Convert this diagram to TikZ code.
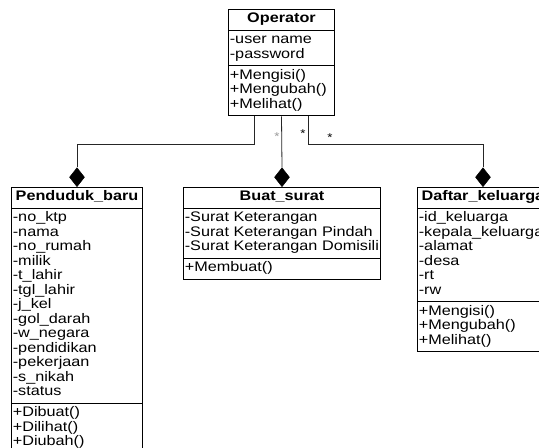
\documentclass[tikz,border=0pt]{standalone}
\usepackage{fontspec}
\setmainfont{Liberation Sans}[FakeStretch=1.17]
\usetikzlibrary{shapes.multipart,shapes.geometric,positioning}

\begin{document}
\begin{tikzpicture}[
  x=0.75pt, y=-0.75pt,
  font=\fontsize{10.4}{10.875}\selectfont,
  cls/.style={draw=black, line width=0.75pt, rectangle split, rectangle split parts=3,
    text width=#1, align=left, inner xsep=1pt, inner ysep=2.06pt,
    anchor=north west, fill=white},
  comp/.style={draw=black, fill=black, diamond, minimum width=11.25pt,
    minimum height=14.25pt, inner sep=0pt, anchor=south},
  link/.style={draw=black!85, line width=0.6pt},
  mult/.style={font=\fontsize{8.5}{9}\selectfont, inner sep=0pt}
]
  \useasboundingbox (0,0) rectangle (539,448);
  \clip (0,0) rectangle (539,448);
  \fill[white] (0,0) rectangle (539,448);

  % operator on top
  \node[cls=77.5pt] (op) at (228,9) {\strut\hfill\textbf{Operator}\hfill\strut
    \nodepart{second}\strut-user name\\-password\strut
    \nodepart{third}\strut+Mengisi()\\+Mengubah()\\+Melihat()\strut};

  % the three parts
  \node[cls=96.25pt] (pend) at (11,187) {\strut\hfill\textbf{Penduduk\_baru}\hfill\strut
    \nodepart{second}\strut-no\_ktp\\-nama\\-no\_rumah\\-milik\\-t\_lahir\\-tgl\_lahir\\-j\_kel\\
    -gol\_darah\\-w\_negara\\-pendidikan\\-pekerjaan\\-s\_nikah\\-status\strut
    \nodepart{third}\strut+Dibuat()\\+Dilihat()\\+Diubah()\strut};
  \node[cls=145.75pt] (surat) at (183,187) {\strut\hfill\textbf{Buat\_surat}\hfill\strut
    \nodepart{second}\strut-Surat Keterangan\\-Surat Keterangan Pindah\\-Surat Keterangan Domisili\strut
    \nodepart{third}\strut+Membuat()\strut};
  \node[cls=96.25pt] (kk) at (417,187) {\strut\hfill\textbf{Daftar\_keluarga}\hfill\strut
    \nodepart{second}\strut-id\_keluarga\\-kepala\_keluarga\\-alamat\\-desa\\-rt\\-rw\strut
    \nodepart{third}\strut+Mengisi()\\+Mengubah()\\+Melihat()\strut};

  % composition diamonds
  \node[comp] (d1) at (pend.north) {};
  \node[comp] (d2) at (surat.north) {};
  \node[comp] (d3) at (kk.north) {};

  % links
  \draw[link] ([xshift=-20.25pt]op.south) -- ++(0,28) -| (d1.north);
  \draw[link] (op.south) -- (d2.north);
  \draw[link] ([xshift=20.25pt]op.south) -- ++(0,28) -| (d3.north);

  \node[mult, black!40] (m2) at (277,137) {*};
  \node[mult] (m3a) at (303,134) {*};
  \node[mult] (m3b) at (330,138) {*};
\end{tikzpicture}
\end{document}
